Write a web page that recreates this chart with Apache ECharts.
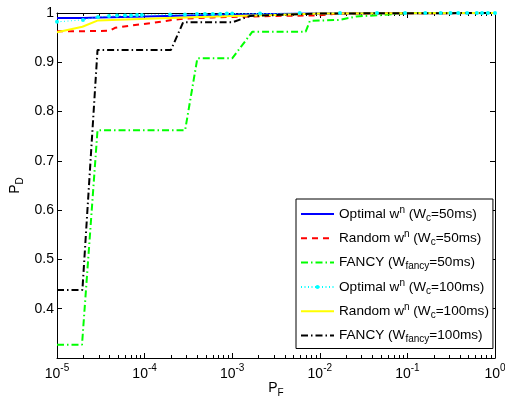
<!DOCTYPE html>
<html><head><meta charset="utf-8">
<script src="https://cdn.jsdelivr.net/npm/echarts@6/dist/echarts.min.js"></script>
<style>html,body{margin:0;padding:0;background:#fff}#c{width:505px;height:396px}</style>
</head><body><div id="c"></div>
<script>
// ---- data ----
const opt50X = [1e-5, 2e-5, 3e-5, 1e-4, 3e-4, 1e-3, 1e-2, 1];
const opt50Y = [0.990, 0.990, 0.991, 0.993, 0.995, 0.997, 0.999, 1];

const rnd50X = [1e-5, 2e-5, 4.0e-5, 4.6e-5, 8.2e-5, 1.25e-4, 2.1e-4, 3.05e-4, 6.0e-4, 1e-3, 3e-3, 9.3e-3, 1.7e-2, 1];
const rnd50Y = [0.963, 0.963, 0.964, 0.970, 0.976, 0.980, 0.986, 0.989, 0.991, 0.992, 0.994, 0.995, 0.999, 1];

const fan50X = [1e-5, 1.93e-5, 2.9e-5, 2.9e-4, 4.0e-4, 1.0e-3, 1.7e-3, 6.9e-3, 7.7e-3, 1.7e-2, 2.6e-2, 5.3e-2, 0.1, 1];
const fan50Y = [0.327, 0.327, 0.762, 0.762, 0.908, 0.908, 0.962, 0.962, 0.984, 0.986, 0.993, 0.996, 1, 1];

const opt100X = [1e-5, 1.98e-5, 2.94e-5, 3.92e-5, 4.84e-5, 5.97e-5, 7.0e-5, 8.2e-5, 9.3e-5, 1.95e-4, 2.89e-4, 3.96e-4, 4.89e-4, 6.0e-4, 7.3e-4, 8.7e-4, 1.0e-3, 2.08e-3, 5.9e-3, 1.7e-2, 4.5e-2, 9.4e-2, 0.16, 0.24, 0.31, 0.38, 0.48, 0.62, 0.71, 0.83, 1];
const opt100Y = [0.982, 0.986, 0.992, 0.994, 0.995, 0.995, 0.995, 0.996, 0.996, 0.997, 0.997, 0.998, 0.998, 0.998, 0.998, 0.999, 0.999, 0.999, 1, 1, 1, 1, 1, 1, 1, 1, 1, 1, 1, 1, 1];

const rnd100X = [1e-5, 1.95e-5, 2.94e-5, 9e-5, 3e-4, 1e-3, 3e-3, 1e-2, 1];
const rnd100Y = [0.961, 0.972, 0.985, 0.988, 0.991, 0.994, 0.996, 0.999, 1];

const fan100X = [1e-5, 1.95e-5, 2.9e-5, 2.0e-4, 2.75e-4, 1.0e-3, 1.6e-3, 1e-2, 1];
const fan100Y = [0.438, 0.438, 0.925, 0.925, 0.981, 0.981, 0.994, 0.999, 1];

const seriesNames = [
  'Optimal w{sup|n} (W{sub|c}=50ms)',
  'Random w{sup|n} (W{sub|c}=50ms)',
  'FANCY (W{sub|fancy}=50ms)',
  'Optimal w{sup|n} (W{sub|c}=100ms)',
  'Random w{sup|n} (W{sub|c}=100ms)',
  'FANCY (W{sub|fancy}=100ms)'
];
const yTicks = [0.4, 0.5, 0.6, 0.7, 0.8, 0.9, 1];
const xMinorTicks = [];
[1e-5, 1e-4, 1e-3, 1e-2, 1e-1].forEach(d => { for (let k = 2; k <= 9; k++) xMinorTicks.push(+(d * k).toPrecision(3)); });

// ---- chart ----
const FONT = 'Liberation Sans';
const zip = (xs, ys) => xs.map((x, i) => [x, ys[i]]);
const chart = echarts.init(document.getElementById('c'), null, {renderer: 'canvas'});

function lineSeries(name, xs, ys, color, type, width, extra) {
  return Object.assign({
    name, type: 'line', data: zip(xs, ys), xAxisIndex: 0, yAxisIndex: 0,
    showSymbol: false, symbol: 'none', silent: true, animation: false,
    lineStyle: {color, width, type}, itemStyle: {color}
  }, extra || {});
}

const tickStyle = {lineStyle: {color: '#000', width: 1}};
const option = {
  backgroundColor: '#fff',
  animation: false,
  textStyle: {fontFamily: FONT},
  grid: {left: 57, right: 10, top: 13, bottom: 38, containLabel: false, outerBoundsMode: 'none'},
  legend: {
    orient: 'vertical', left: 296, top: 199,
    itemWidth: 33, itemHeight: 5, itemGap: 6.3,
    padding: [6, 4, 4, 4],
    backgroundColor: '#fff', borderColor: '#000', borderWidth: 1,
    selectedMode: false,
    data: seriesNames.map((n, i) => i === 3 ? {name: n} : {name: n, itemStyle: {opacity: 0}}),
    formatter: n => n,
    textStyle: {
      fontFamily: FONT, fontSize: 13.6, color: '#000', lineHeight: 18,
      rich: {
        sup: {fontFamily: FONT, fontSize: 10, lineHeight: 9, verticalAlign: 'top', color: '#000'},
        sub: {fontFamily: FONT, fontSize: 10, lineHeight: 9, verticalAlign: 'bottom', color: '#000'}
      }
    }
  },
  xAxis: [
    {
      type: 'log', logBase: 10, min: 1e-5, max: 1, position: 'bottom',
      name: 'P{sub|F}', nameLocation: 'middle', nameGap: 20, nameMoveOverlap: false,
      nameTextStyle: {fontFamily: FONT, fontSize: 14, color: '#000', rich: {sub: {fontSize: 10, lineHeight: 10, verticalAlign: 'bottom'}}, lineHeight: 20},
      axisLine: {show: true, onZero: false, lineStyle: {color: '#000', width: 1}},
      axisTick: Object.assign({show: true, inside: true, length: 5}, tickStyle),
      minorTick: {show: false}, splitLine: {show: false},
      axisLabel: {
        margin: 5, color: '#000', fontFamily: FONT, fontSize: 14,
        formatter: v => '{b|10}{sup|' + Math.round(Math.log10(v)) + '}',
        rich: {
          b: {fontSize: 14, lineHeight: 22, fontFamily: FONT, color: '#000'},
          sup: {fontSize: 10, lineHeight: 9, verticalAlign: 'top', fontFamily: FONT, color: '#000'}
        }
      }
    },
    {
      type: 'log', logBase: 10, min: 1e-5, max: 1, position: 'bottom',
      axisLine: {show: false},
      axisTick: Object.assign({show: true, inside: true, length: 3, customValues: xMinorTicks}, tickStyle),
      axisLabel: {show: false}, splitLine: {show: false}
    },
    {
      type: 'log', logBase: 10, min: 1e-5, max: 1, position: 'top',
      axisLine: {show: true, onZero: false, lineStyle: {color: '#000', width: 1}},
      axisTick: Object.assign({show: true, inside: true, length: 5}, tickStyle),
      axisLabel: {show: false}, splitLine: {show: false}
    },
    {
      type: 'log', logBase: 10, min: 1e-5, max: 1, position: 'top',
      axisLine: {show: false},
      axisTick: Object.assign({show: true, inside: true, length: 3, customValues: xMinorTicks}, tickStyle),
      axisLabel: {show: false}, splitLine: {show: false}
    }
  ],
  yAxis: [
    {
      type: 'value', min: 0.3, max: 1, interval: 0.1, position: 'left',
      name: 'P{sub|D}', nameLocation: 'middle', nameGap: 32, nameRotate: 90, nameMoveOverlap: false,
      nameTextStyle: {fontFamily: FONT, fontSize: 14, color: '#000', lineHeight: 20, rich: {sub: {fontSize: 10, lineHeight: 10, verticalAlign: 'bottom'}}},
      axisLine: {show: true, onZero: false, lineStyle: {color: '#000', width: 1}},
      axisTick: Object.assign({show: true, inside: true, length: 5}, tickStyle),
      splitLine: {show: false},
      axisLabel: {
        margin: 3, color: '#000', fontFamily: FONT, fontSize: 14, showMinLabel: false,
        formatter: v => yTicks.some(t => Math.abs(t - v) < 1e-6) ? String(+v.toFixed(1)) : ''
      }
    },
    {
      type: 'value', min: 0.3, max: 1, interval: 0.1, position: 'right',
      axisLine: {show: true, onZero: false, lineStyle: {color: '#000', width: 1}},
      axisTick: Object.assign({show: true, inside: true, length: 5}, tickStyle),
      axisLabel: {show: false}, splitLine: {show: false}
    }
  ],
  series: [
    lineSeries(seriesNames[0], opt50X, opt50Y, '#0000ff', 'solid', 2),
    lineSeries(seriesNames[1], rnd50X, rnd50Y, '#ff0000', [6, 5], 2),
    lineSeries(seriesNames[2], fan50X, fan50Y, '#00ff00', [7, 3, 1.5, 3], 2),
    lineSeries(seriesNames[3], opt100X, opt100Y, '#00ffff', [1, 2.5], 1,
      {showSymbol: true, symbol: 'circle', symbolSize: 4, itemStyle: {color: '#00ffff', borderWidth: 0}}),
    lineSeries(seriesNames[4], rnd100X, rnd100Y, '#ffff00', 'solid', 2),
    lineSeries(seriesNames[5], fan100X, fan100Y, '#000000', [7, 3, 1.5, 3], 2)
  ]
};
chart.setOption(option);
</script>
</body></html>
